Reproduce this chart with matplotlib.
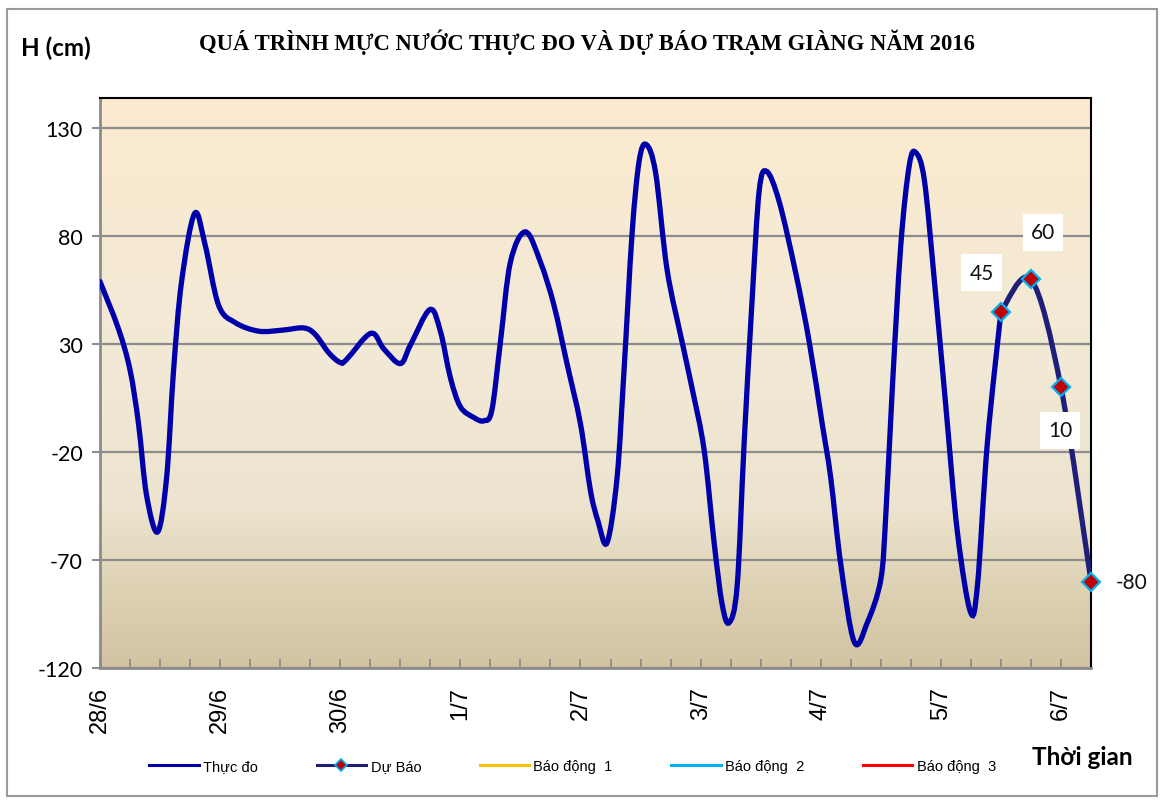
import numpy as np
import matplotlib
matplotlib.use("Agg")
import matplotlib.pyplot as plt
from matplotlib.path import Path
from matplotlib.patches import PathPatch, Rectangle
from matplotlib.colors import LinearSegmentedColormap

# observed water level (hours from 28/6 00:00, cm)
obs_hours = [0, 3.7, 6, 7.7, 9.3, 11.5, 13.3, 14.7, 16.3, 18.9, 21, 23.7, 27, 31.7,
             36.5, 40.7, 43, 45.7, 48, 49.3, 54.1, 56.7, 60, 62, 65.9, 68, 70, 72,
             74.7, 76.7, 78.3, 80, 82, 85, 88, 90.7, 93.3, 96, 98, 99.5, 101.3, 103.3,
             104.7, 106.3, 107.7, 109.1, 111, 113.3, 116.3, 118.3, 120.7, 122.7, 124.3,
             125.7, 127.3, 128.7, 130.3, 131.7, 133.2, 135.7, 139, 141.7, 144.3, 146,
             148, 150.7, 153.3, 156, 157, 158.3, 160, 161.7, 163, 164.7, 166.7, 169,
             171.3, 173.9, 175.3, 177.3, 180]
obs_level = [59, 37, 18, -7, -40, -57, -32, 18, 59, 90.5, 76, 48, 40, 36,
             36.5, 37.5, 34.5, 26, 21.5, 23, 35, 27.8, 21, 29.5, 46, 36, 14.5, 1,
             -4, -5.5, -0.5, 31, 68, 82, 68, 48, 21, -7, -38, -52, -62, -32,
             18, 81, 114.5, 122.5, 109.5, 64.5, 31, 9.5, -19, -62, -90.5,
             -99, -82, -15.5, 51, 101, 110, 96, 63, 31, -7, -32,
             -72, -108, -99, -79, -49, 9.5, 76, 113, 118.7, 106, 59.5, 1,
             -57, -94, -82, -15.5, 45]

# forecast
fc_hours = [180, 186, 192, 198]
fc_level = [45, 60, 10, -80]

day_labels = ["28/6", "29/6", "30/6", "1/7", "2/7", "3/7", "4/7", "5/7", "6/7"]
y_ticks = [-120, -70, -20, 30, 80, 130]


def smooth_path(xs, ys):
    # Excel-like smoothed line: cubic bezier through every point
    p = np.column_stack([xs, ys]).astype(float)
    verts = [p[0]]
    codes = [Path.MOVETO]
    n = len(p)
    for i in range(n - 1):
        p0 = p[i - 1] if i > 0 else p[i]
        p1, p2 = p[i], p[i + 1]
        p3 = p[i + 2] if i + 2 < n else p[i + 1]
        c1 = p1 + (p2 - p0) / 6.0
        c2 = p2 - (p3 - p1) / 6.0
        verts += [c1, c2, p2]
        codes += [Path.CURVE4] * 3
    return Path(verts, codes)


fig = plt.figure(figsize=(11.71, 8.03), dpi=100)
ax = fig.add_axes([0.0854, 0.1669, 0.8463, 0.7098])

ymin, ymax = -120, 144
xmax = 198
ax.set_xlim(0, xmax)
ax.set_ylim(ymin, ymax)

# gradient background
cmap = LinearSegmentedColormap.from_list("bg", [(0, "#FCEBCF"), (0.45, "#F2E9D6"),
                                               (0.72, "#EDE4CF"), (0.85, "#DFD3B6"),
                                               (1, "#D2C3A1")])
grad = np.linspace(0, 1, 256).reshape(-1, 1)
ax.imshow(grad, cmap=cmap, aspect="auto", extent=[0, xmax, ymin, ymax],
          origin="upper", zorder=0)

for yv in y_ticks:
    ax.axhline(yv, color="#8C8C8C", lw=1.6, zorder=1)

ax.add_patch(PathPatch(smooth_path(obs_hours, obs_level), fill=False,
                       edgecolor="#0000AA", lw=3.8, capstyle="round", zorder=3))
ax.add_patch(PathPatch(smooth_path(fc_hours, fc_level), fill=False,
                       edgecolor="#1F1F7A", lw=3.8, capstyle="round", zorder=4))
ax.plot(fc_hours, fc_level, ls="none", marker="D", ms=9, mfc="#C00000",
        mec="#00B0F0", mew=1.6, zorder=5, clip_on=False)

# data labels
lab_off = [(-19, 39), (12, 47), (-1, -43), (41, 0)]
for hx, lv, (dx, dy) in zip(fc_hours, fc_level, lab_off):
    bbox = dict(fc="white", ec="none", pad=6) if lv != -80 else None
    ax.annotate(f"{lv:g}", (hx, lv), xytext=(dx, dy), textcoords="offset pixels",
                ha="center", va="center", fontsize=15, family="Lato",
                color="#111111", bbox=bbox, zorder=6, annotation_clip=False)

# legend proxies
l1, = ax.plot([], [], color="#0000AA", lw=2.2)
l2, = ax.plot([], [], color="#1F1F7A", lw=2.2, marker="D", ms=6,
              mfc="#C00000", mec="#00B0F0", mew=1.2)
l3, = ax.plot([], [], color="#FFC000", lw=2.2)
l4, = ax.plot([], [], color="#00B0F0", lw=2.2)
l5, = ax.plot([], [], color="#FF0000", lw=2.2)
fig.legend([l1, l2, l3, l4, l5],
           ["Thực đo", "Dự Báo", "Báo động  1", "Báo động  2", "Báo động  3"],
           loc="center", bbox_to_anchor=(0.489, 0.045), ncol=5, frameon=False,
           prop={"family": "Liberation Sans", "size": 10.5}, handlelength=3.4,
           columnspacing=4.0, handletextpad=0.3)

# axes ticks
ax.set_xticks(np.arange(0, 193, 24))
ax.set_xticklabels(day_labels, rotation=90, family="Liberation Sans", fontsize=17)
ax.set_xticks(np.arange(0, xmax + 1, 6), minor=True)
ax.tick_params(axis="x", which="both", direction="in", length=6.5, width=1.3,
               color="#8C8C8C", pad=13)
ax.set_yticks(y_ticks)
ax.set_yticklabels([str(v) for v in y_ticks], family="Lato", fontsize=15.5)
ax.tick_params(axis="y", direction="out", length=5.8, width=1.5, color="#8C8C8C",
               pad=6.5)

for s in ["left", "bottom"]:
    ax.spines[s].set_color("#8C8C8C")
    ax.spines[s].set_linewidth(2)
for s in ["top", "right"]:
    ax.spines[s].set_color("black")
    ax.spines[s].set_linewidth(1.5)

fig.text(0.501, 0.948, "QUÁ TRÌNH MỰC NƯỚC THỰC ĐO VÀ DỰ BÁO TRẠM GIÀNG NĂM 2016",
         ha="center", va="center", family="Liberation Serif", weight="bold",
         fontsize=16.3)
fig.text(0.018, 0.94, "H (cm)", ha="left", va="center", family="Lato",
         weight="bold", fontsize=17.5)
fig.text(0.881, 0.057, "Thời gian", ha="left", va="center", family="Lato",
         weight="bold", fontsize=17.5)

fig.patches.append(Rectangle((0.006, 0.008), 0.982, 0.98, transform=fig.transFigure,
                             fill=False, ec="#9A9A9A", lw=1.5))

fig.savefig("out.png", dpi=100)
